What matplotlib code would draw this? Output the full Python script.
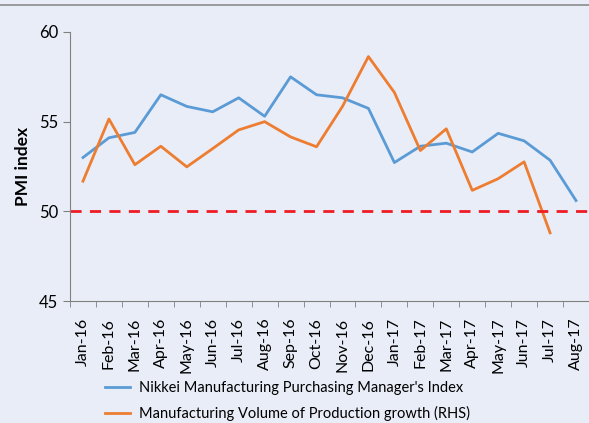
import matplotlib.pyplot as plt
from matplotlib.lines import Line2D

months = ["Jan-16", "Feb-16", "Mar-16", "Apr-16", "May-16", "Jun-16", "Jul-16",
          "Aug-16", "Sep-16", "Oct-16", "Nov-16", "Dec-16", "Jan-17", "Feb-17",
          "Mar-17", "Apr-17", "May-17", "Jun-17", "Jul-17", "Aug-17"]
pmi = [53.0, 54.1, 54.4, 56.5, 55.85, 55.55, 56.33, 55.3, 57.5, 56.5,
       56.33, 55.74, 52.72, 53.63, 53.8, 53.31, 54.35, 53.93, 52.85, 50.6]
production = [51.68, 55.15, 52.6, 53.63, 52.48, 53.5, 54.54, 55.0, 54.15, 53.6,
              55.85, 58.63, 56.63, 53.39, 54.6, 51.17, 51.82, 52.76, 48.8]

bg = "#e9edf7"
plt.rcParams['font.family'] = ['Lato', 'DejaVu Sans']

fig = plt.figure(figsize=(5.89, 4.23), dpi=100, facecolor=bg)
ax = fig.add_axes([70/589, 122/423, 519/589, 269/423], facecolor=bg)

x = list(range(len(months)))
ax.plot(x, pmi, color="#5b9bd5", lw=2, label="Nikkei Manufacturing Purchasing Manager's Index")
ax.plot(x[:len(production)], production, color="#ed7d31", lw=2,
        label="Manufacturing Volume of Production growth (RHS)")
ax.axhline(50, color="#ee1c25", lw=2, ls=(0, (4, 3)))

ax.set_xlim(-0.5, len(months) - 0.5)
ax.set_ylim(45, 60)
ax.set_yticks([45, 50, 55, 60])
ax.set_xticks(x)
ax.set_xticklabels(months, rotation=90, fontsize=11.5)
ax.set_xticks([i - 0.5 for i in range(len(months) + 1)], minor=True)
ax.tick_params(axis='x', which='major', length=0, pad=12)
ax.tick_params(axis='x', which='minor', length=4, color="#808080")
ax.tick_params(axis='y', length=5, color="#808080", labelsize=12)
ax.set_ylabel("PMI index", fontsize=12.5, fontweight='bold', labelpad=6)

for s in ['top', 'right']:
    ax.spines[s].set_visible(False)
for s in ['left', 'bottom']:
    ax.spines[s].set_color("#808080")

fig.add_artist(Line2D([0, 1], [1 - 5/423, 1 - 5/423], color="#8c8c8c", lw=1.2))

h, l = ax.get_legend_handles_labels()
fig.legend(h, l, loc='upper left', bbox_to_anchor=(92/589, 1 - 368/423),
           frameon=False, fontsize=10.5, handlelength=1.7, handletextpad=0.6,
           labelspacing=0.75)

fig.savefig("out.png", dpi=100, facecolor=bg)
